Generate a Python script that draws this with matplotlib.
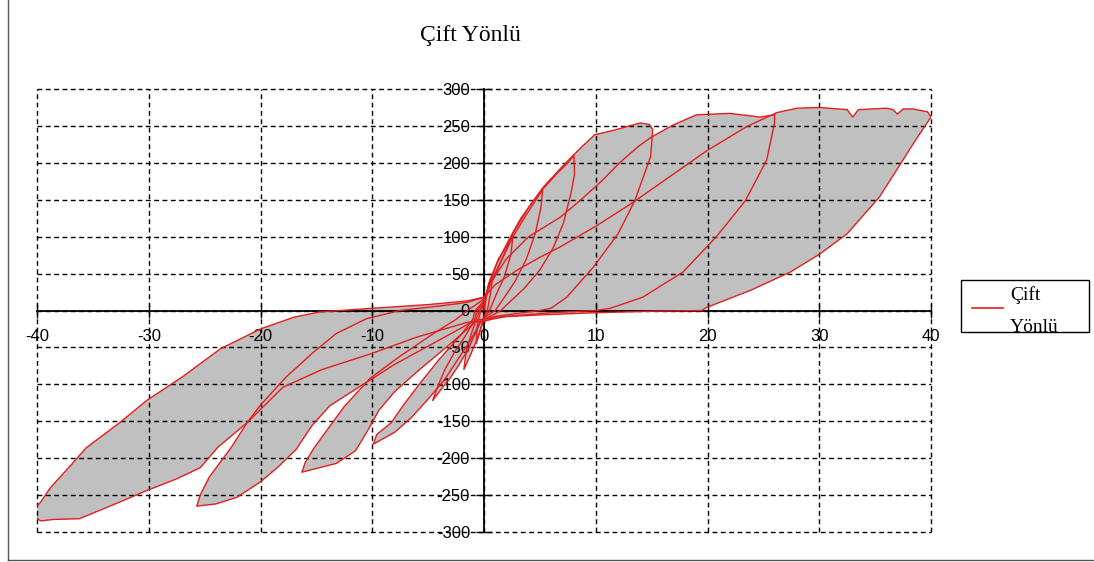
import matplotlib
matplotlib.use("Agg")
import matplotlib.pyplot as plt
from matplotlib.lines import Line2D
from matplotlib.patches import Rectangle

plt.rcParams['axes.unicode_minus'] = False

# Yer değiştirme (mm) - kuvvet (kN) çevrimleri, sırasıyla: pozitif yükleme,
# boşaltma, eksen boyunca geçiş, negatif yükleme, boşaltma, geri dönüş
cevrim_1 = [(0, 0), (0.3, 25), (0.8, 50), (0.6, 25), (0.3, 0), (0.1, -5),
            (-0.2, -20), (-0.7, -45), (-0.6, -20), (-0.3, 0), (0, 8)]

cevrim_2 = [(0, 8), (0.5, 40), (1.3, 70), (2.6, 102), (2.4, 75), (1.8, 45),
            (0.9, 15), (0.5, 0), (0.2, -6), (0, -10), (-0.5, -35), (-1.2, -60),
            (-1.8, -80), (-1.6, -55), (-1.1, -30), (-0.6, -8), (-0.4, 0), (0, 10)]

cevrim_3 = [(0, 10), (0.4, 35), (1.2, 65), (2.2, 95), (3.3, 125), (4.4, 148),
            (5.25, 163), (5.1, 140), (4.6, 105), (3.8, 70), (2.8, 40), (1.7, 15),
            (1.0, 0), (0.5, -5), (0, -10), (-0.3, -15), (-1.4, -52), (-2.3, -75),
            (-3.0, -91), (-3.9, -108), (-4.6, -122), (-4.2, -105), (-3.5, -80),
            (-2.7, -58), (-1.7, -35), (-0.9, -15), (-0.6, 0), (-0.2, 8), (0, 12)]

cevrim_4 = [(0, 12), (0.5, 35), (1.3, 60), (2.6, 100), (3.8, 130), (5.3, 165),
            (6.5, 185), (7.5, 200), (8.05, 210), (8.1, 185), (7.8, 160),
            (7.1, 118), (6.2, 85), (5.0, 55), (3.6, 30), (2.2, 10), (1.5, 0),
            (0.8, -6), (0, -12), (-0.3, -15), (-1.2, -40), (-2.5, -70),
            (-3.6, -95), (-5.0, -120), (-6.5, -145), (-8.0, -165), (-9.9, -181),
            (-9.6, -168), (-8.3, -152), (-7.2, -128), (-5.8, -100), (-4.0, -66),
            (-2.0, -32), (-1.0, -12), (-0.8, 0), (-0.3, 8), (0, 14)]

cevrim_5 = [(0, 14), (0.4, 30), (1.2, 55), (2.6, 105), (4.0, 140), (5.3, 167),
            (7.0, 195), (8.5, 218), (9.9, 238), (11.6, 244), (13.0, 250),
            (14.0, 254), (14.8, 252), (15.1, 245), (15.0, 225), (14.9, 208),
            (13.5, 149), (12.0, 104), (9.8, 59), (7.4, 18), (6.0, 3), (5.0, 0),
            (3.0, -4), (1.0, -8), (0, -12), (-0.5, -12), (-3.0, -45), (-6.0, -83),
            (-8.0, -110), (-9.4, -135), (-10.5, -165), (-11.5, -190),
            (-13.2, -207), (-15.0, -214), (-16.3, -219), (-16.0, -206),
            (-15.2, -186), (-14.0, -161), (-12.5, -130), (-10.2, -92),
            (-7.8, -65), (-4.6, -32), (-2.5, -12), (-1.5, 0), (-0.7, 8), (0, 16)]

cevrim_6 = [(0, 16), (0.5, 35), (2.0, 70), (4.0, 100), (6.8, 126), (8.6, 149),
            (10.5, 175), (12.2, 201), (13.8, 222), (15.0, 235), (16.9, 251),
            (19.0, 265), (22.0, 267), (24.7, 262), (26.0, 265), (26.0, 254),
            (25.3, 204), (23.4, 149), (20.8, 100), (17.8, 52), (14.2, 18),
            (11.3, 3), (10.0, 0), (6.0, -3), (2.0, -8), (0, -14), (-1.0, -15),
            (-4.0, -40), (-8.0, -73), (-11.0, -102), (-13.8, -129),
            (-15.4, -156), (-16.8, -188), (-18.5, -213), (-20.0, -232),
            (-22.1, -253), (-24.0, -262), (-25.7, -265), (-25.4, -250),
            (-24.6, -226), (-22.6, -185), (-21.2, -152), (-20.0, -128),
            (-17.7, -90), (-15.3, -57), (-13.2, -31), (-10.5, -11), (-7.5, 0),
            (-4.0, 6), (-1.5, 11), (0, 18)]

cevrim_7 = [(0, 18), (1.0, 35), (3.0, 55), (5.0, 72), (6.8, 86), (10.1, 115),
            (13.2, 145), (16.5, 180), (20.0, 217), (23.5, 249), (26.2, 268),
            (28.0, 274), (30.0, 275), (32.5, 272), (33.0, 262), (33.5, 272),
            (36.0, 274), (36.6, 272), (37.0, 266), (37.5, 273), (38.4, 273),
            (39.7, 269), (40.0, 262), (39.6, 253), (38.5, 228), (37.5, 204),
            (35.4, 154), (32.5, 104), (30.0, 76), (27.4, 52), (23.8, 27),
            (19.9, 4), (19.5, 0), (15.0, -1), (10.0, -3), (5.0, -6), (1.0, -9),
            (0, -15), (-1.5, -16), (-6.0, -36), (-10.2, -59), (-14.5, -80),
            (-18.0, -104), (-21.2, -152), (-23.8, -185), (-25.4, -213),
            (-27.5, -228), (-30.2, -244), (-33.0, -262), (-36.2, -282),
            (-38.5, -283), (-39.7, -285), (-40.2, -278), (-40.2, -268),
            (-39.7, -260), (-38.8, -240), (-37.0, -210), (-35.6, -186),
            (-32.6, -152), (-30.2, -122), (-27.0, -90), (-23.6, -52),
            (-20.0, -25), (-17.0, -9), (-14.7, -2), (-10.0, 3), (-5.0, 8),
            (-1.5, 13), (0, 18)]

cevrimler = [cevrim_1, cevrim_2, cevrim_3, cevrim_4, cevrim_5, cevrim_6, cevrim_7]

x_ticks = list(range(-40, 41, 10))
y_ticks = list(range(-300, 301, 50))

baslik = 'Çift Yönlü'

W, H = 1094, 562
fig = plt.figure(figsize=(W / 100, H / 100), dpi=100)
ax = fig.add_axes([37 / W, 1 - 532 / H, (931 - 37) / W, (532 - 89) / H])

# çevrimlerin içi gri, çizgiler kırmızı
for c in cevrimler:
    xs = [p[0] for p in c]
    ys = [p[1] for p in c]
    ax.fill(xs, ys, color='#c0c0c0', lw=0, zorder=1)
for c in cevrimler:
    xs = [p[0] for p in c]
    ys = [p[1] for p in c]
    ax.plot(xs, ys, color='#e41e1e', lw=1.0, zorder=3)

ax.set_xlim(-40, 40)
ax.set_ylim(-300, 300)
ax.set_xticks(x_ticks)
ax.set_yticks(y_ticks)

ax.spines['left'].set_position(('data', 0))
ax.spines['bottom'].set_position(('data', 0))
ax.spines['top'].set_visible(False)
ax.spines['right'].set_visible(False)
for s in ['left', 'bottom']:
    ax.spines[s].set_linewidth(1.3)
    ax.spines[s].set_zorder(2)

ax.tick_params(axis='x', direction='inout', length=10, width=1, labelsize=12, pad=8)
ax.tick_params(axis='y', direction='inout', length=12, width=1, labelsize=12, pad=4)
for lab in ax.get_xticklabels() + ax.get_yticklabels():
    lab.set_fontfamily('Liberation Sans')

ax.set_axisbelow('line')
ax.grid(True, color='black', linestyle=(0, (3.5, 2.5)), lw=1)
for g in ax.get_xgridlines() + ax.get_ygridlines():
    g.set_clip_on(False)

fig.text(470 / W, 1 - 35 / H, baslik, ha='center', va='center',
         fontsize=17, family='Liberation Serif')

# dış çerçeve
fig.add_artist(Line2D([8 / W, 8 / W], [1 - 560 / H, 1], color='#555555', lw=1))
fig.add_artist(Line2D([8 / W, 1], [1 - 560 / H, 1 - 560 / H], color='#555555', lw=1))

# gösterge kutusu
fig.add_artist(Line2D([972 / W, 1003 / W], [1 - 308 / H, 1 - 308 / H],
                      color='#e41e1e', lw=1.2))
fig.text(1010 / W, 1 - 295 / H, 'Çift', ha='left', va='center',
         fontsize=14, family='Liberation Serif')
fig.text(1010 / W, 1 - 328 / H, 'Yönlü', ha='left', va='center',
         fontsize=14, family='Liberation Serif')
fig.add_artist(Rectangle((958 / W, 1 - 345 / H), 134 / W, 12.5 / H,
                         transform=fig.transFigure, facecolor='white',
                         edgecolor='none', zorder=5))
fig.add_artist(Rectangle((961 / W, 1 - 332 / H), 128 / W, 52 / H,
                         transform=fig.transFigure, fill=False,
                         edgecolor='black', lw=1, zorder=6))

fig.savefig('out.png', dpi=100)
